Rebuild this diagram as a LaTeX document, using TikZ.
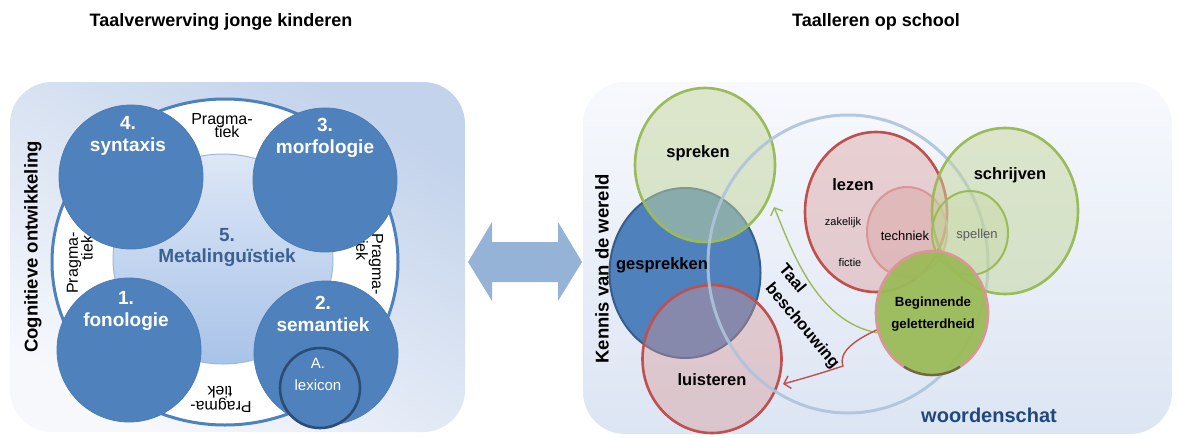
\documentclass[tikz,border=0pt]{standalone}
\usepackage{fontspec}
\setmainfont{Liberation Sans}
\usetikzlibrary{shapes.geometric,arrows.meta}
\definecolor{acc}{HTML}{4F81BD}
\definecolor{accd}{HTML}{385D8A}
\definecolor{grn}{HTML}{9BBB59}
\definecolor{lgrn}{HTML}{C3D69B}
\definecolor{red1}{HTML}{C0504D}
\definecolor{pnk}{HTML}{D99694}
\definecolor{arrc}{HTML}{95B3D7}
\definecolor{dblue}{HTML}{1F497D}
\definecolor{metb}{HTML}{3B6193}
\definecolor{bigc}{HTML}{AFC3DA}
\definecolor{lexb}{HTML}{2C4C74}
\definecolor{lpA}{HTML}{C3D3EB}
\definecolor{lpB}{HTML}{F6F8FC}
\definecolor{rpA}{HTML}{F7F9FD}
\definecolor{rpB}{HTML}{C5D5ED}
\definecolor{rpC}{HTML}{DCE5F3}
\definecolor{inA}{HTML}{DDE7F6}
\definecolor{inB}{HTML}{A9C3E8}
\definecolor{inD}{HTML}{9DB8DE}
\definecolor{dgrn}{HTML}{4F6228}
\definecolor{gry}{HTML}{5A5A5A}
\tikzset{
  fs/.style={font=\fontsize{#1}{#1}\selectfont},
  bf/.style={font=\bfseries\fontsize{#1}{#1}\selectfont},
  dkc/.style={circle, minimum size=144pt, inner sep=0pt, fill=acc, draw=acc!95!black, line width=0.8pt},
  ell/.style 2 args={ellipse, inner sep=0pt, minimum width=#1pt, minimum height=#2pt},
  greenc/.style={fill=lgrn, fill opacity=0.5, draw=grn, draw opacity=1, line width=2.6pt},
  redc/.style={fill=pnk, fill opacity=0.4, draw=red1, draw opacity=1, line width=2.6pt},
  wtxt/.style={text=white, align=center, font=\bfseries\fontsize{19}{22}\selectfont},
  prag/.style={font=\fontsize{16}{16}\selectfont, inner sep=0pt},
  lbl/.style={font=\bfseries\fontsize{16.5}{16.5}\selectfont, inner sep=0pt},
}
\begin{document}
\begin{tikzpicture}[x=1pt,y=-1pt]
\useasboundingbox (0,0) rectangle (1178,437);
% titles
\node[bf=18] (t1) at (221,22) {Taalverwerving jonge kinderen};
\node[bf=18] (t2) at (876,22) {Taalleren op school};
% panels
\shade[rounded corners=42pt, top color=lpA, bottom color=lpB, shading angle=-30] (10,82) rectangle (465,432);
\shade[rounded corners=42pt, top color=rpA, middle color=rpB, bottom color=rpC] (583,82) rectangle (1172,434);
% left ring
\node[ell={346}{326}, fill=white, draw=acc, line width=3pt] (ring) at (225,262) {};
\node[ell={220}{210}, top color=inA, bottom color=inB, draw=inD, line width=1pt] (inner) at (223,259) {};
% pragmatiek labels
\node[prag] (pta) at (222,121) {Pragma-};
\node[prag] (ptb) at (227,132) {tiek};
\node[prag, rotate=-90] (pra) at (376,264) {Pragma-};
\node[prag, rotate=-90] (prb) at (362,248) {tiek};
\node[prag, rotate=90] (pla) at (74,263) {Pragma-};
\node[prag, rotate=90] (plb) at (87,248) {tiek};
\node[prag, rotate=180] (pba) at (221,405) {Pragma-};
\node[prag, rotate=180] (pbb) at (220,392) {tiek};
% dark circles
\node[dkc] (syn) at (131,177) {};
\node[dkc] (mor) at (325,180) {};
\node[dkc] (fon) at (129,350) {};
\node[dkc] (sem) at (326,353) {};
\node[circle, minimum size=80pt, inner sep=0pt, fill=acc, draw=lexb, line width=2.6pt] (lex) at (320,388) {};
\node[wtxt] (synt) at (128,136) {4.\\syntaxis};
\node[wtxt] (mort) at (325,138) {3.\\morfologie};
\node[wtxt] (font) at (126,311) {1.\\fonologie};
\node[wtxt] (semt) at (323,314) {2.\\semantiek};
\node[align=center, text=metb, font=\bfseries\fontsize{19}{21}\selectfont] (met) at (227,247) {5.\\Metalinguïstiek};
\node[align=center, text=white, font=\fontsize{15}{22}\selectfont] (lext) at (318,374) {A.\\lexicon};
\node[bf=18.5, rotate=90] (cog) at (33,247) {Cognitieve ontwikkeling};
% double arrow
\fill[arrc] (468,262) -- (492,222) -- (492,242) -- (558,242) -- (558,222) -- (582,262) -- (558,301) -- (558,282) -- (492,282) -- (492,301) -- cycle;
% right diagram
\node[ell={151}{170}, fill=acc, draw=accd, line width=2pt] (ges) at (685,273) {};
\node[ell={140}{154}, greenc] (spr) at (705,165) {};
\node[ell={139}{148}, redc] (lui) at (712,359) {};
\node[ell={280}{298}, draw=bigc, line width=3pt, draw opacity=0.9] (big) at (848,264) {};
\node[ell={142}{160}, redc] (lez) at (876,212) {};
\node[ell={80}{90}, fill=pnk, fill opacity=0.35, draw=pnk, draw opacity=1, line width=2pt] (tec) at (907,232) {};
\node[ell={146}{166}, greenc] (sch) at (1005,211) {};
\node[ell={76}{84}, fill=lgrn, fill opacity=0.35, draw=grn, draw opacity=1, line width=2pt] (spe) at (970,233) {};
\node[ell={112}{124}, fill=grn, fill opacity=0.95, draw=pnk, draw opacity=1, line width=2.6pt] (beg) at (932,313) {};
\draw[dgrn, line width=2.4pt, opacity=0.8] (932,313) ++(120:56 and 62) arc[start angle=120, end angle=60, x radius=56, y radius=62];
% arrows
\coordinate (gtip) at (774,207);
\coordinate (rtip) at (783,384);
\draw[grn, line width=1.4pt, -{Straight Barb[length=6pt,width=13pt]}] (beg.200) .. controls (815,322) and (790,245) .. (gtip);
\draw[red1, line width=1.4pt, -{Straight Barb[length=6pt,width=13pt]}] (beg.197) .. controls (855,340) and (838,352) .. (843,366) .. controls (825,372) and (805,378) .. (rtip);
% right texts
\node[lbl] (sprt) at (698,153) {spreken};
\node[lbl] (gest) at (662,265) {gesprekken};
\node[lbl] (luit) at (712,380) {luisteren};
\node[lbl] (lezt) at (853,185) {lezen};
\node[lbl] (scht) at (1010,175) {schrijven};
\node[fs=11] (zak) at (843,223) {zakelijk};
\node[fs=11] (fic) at (850,263) {fictie};
\node[fs=13] (tect) at (905,236) {techniek};
\node[fs=13, text=gry] (spet) at (977,235) {spellen};
\node[align=center, font=\bfseries\fontsize{13.3}{22}\selectfont] (begt) at (933,314) {Beginnende\\geletterdheid};
\node[lbl, rotate=-50] (taal) at (793,278) {Taal};
\node[lbl, rotate=-50] (besch) at (802,326) {beschouwing};
\node[bf=18.5, rotate=90] (ken) at (602,269) {Kennis van de wereld};
\node[text=dblue, bf=20] (woo) at (989,415) {woordenschat};
\end{tikzpicture}
\end{document}
